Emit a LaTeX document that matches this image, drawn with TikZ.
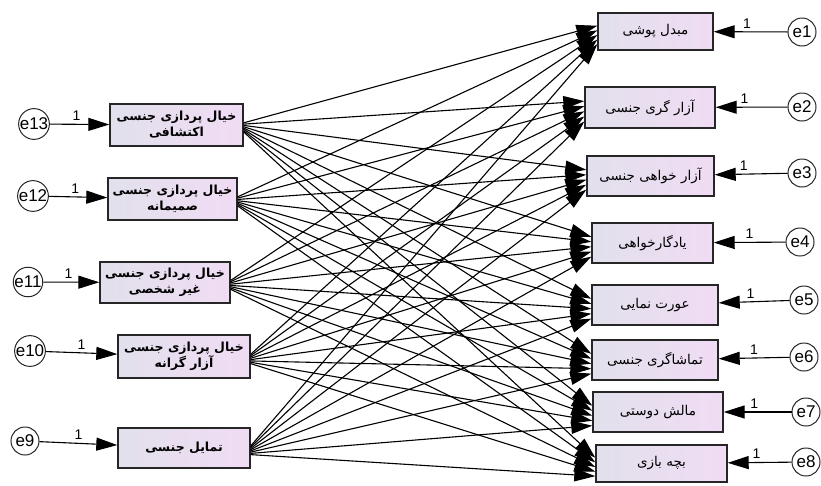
\documentclass[tikz,border=0pt]{standalone}
\usepackage{fontspec}
\setmainfont{Liberation Sans}
\newfontfamily\arabicfont[Script=Arabic]{DejaVu Sans}
\TeXXeTstate=1
\usetikzlibrary{arrows.meta,calc}
\definecolor{boxL}{RGB}{226,224,236}
\definecolor{boxR}{RGB}{240,220,244}
\tikzset{
  varbox/.style={draw=black!85, line width=1.4pt, left color=boxL, right color=boxR,
    align=center, inner sep=0pt, font=\arabicfont\fontsize{13.5}{17}\selectfont},
  leftbox/.style={varbox, font=\arabicfont\bfseries\fontsize{12.5}{16}\selectfont},
  errc/.style={draw=black!85, line width=1pt, circle, minimum size=28pt, inner sep=0pt,
    font=\fontsize{17}{17}\selectfont},
  conn/.style={line width=1.1pt, -{Triangle[length=21pt,width=13pt]}},
  one/.style={font=\fontsize{14}{14}\selectfont, inner sep=3pt}
}
\begin{document}
\begin{tikzpicture}[x=1pt,y=-1pt]
\useasboundingbox (0,0) rectangle (821,485);
% left variables
\node[leftbox, minimum width=133pt, minimum height=42pt] (L1) at (176.5,125) {\beginR خیال پردازی جنسی\endR\\\beginR اکتشافی\endR};
\node[leftbox, minimum width=129pt, minimum height=42pt] (L2) at (172.5,199) {\beginR خیال پردازی جنسی\endR\\\beginR صمیمانه\endR};
\node[leftbox, minimum width=130pt, minimum height=41pt] (L3) at (165,282.5) {\beginR خیال پردازی جنسی\endR\\\beginR غیر شخصی\endR};
\node[leftbox, minimum width=132pt, minimum height=43pt] (L4) at (184,356.5) {\beginR خیال پردازی جنسی\endR\\\beginR آزار گرانه\endR};
\node[leftbox, minimum width=132pt, minimum height=40pt] (L5) at (184,448) {\beginR تمایل جنسی\endR};
% right variables
\node[varbox, minimum width=115pt, minimum height=37pt] (R1) at (655.5,31.5) {\beginR مبدل پوشی\endR};
\node[varbox, minimum width=130pt, minimum height=41pt] (R2) at (650,107.5) {\beginR آزار گری جنسی\endR};
\node[varbox, minimum width=127pt, minimum height=40pt] (R3) at (650.5,176) {\beginR آزار خواهی جنسی\endR};
\node[varbox, minimum width=121pt, minimum height=40pt] (R4) at (652.5,243) {\beginR یادگارخواهی\endR};
\node[varbox, minimum width=126pt, minimum height=40pt] (R5) at (655,305) {\beginR عورت نمایی\endR};
\node[varbox, minimum width=126pt, minimum height=40pt] (R6) at (655,360) {\beginR تماشاگری جنسی\endR};
\node[varbox, minimum width=130pt, minimum height=40pt] (R7) at (658,412) {\beginR مالش دوستی\endR};
\node[varbox, minimum width=131pt, minimum height=37pt] (R8) at (661.5,463.5) {\beginR بچه بازی\endR};
% error terms left
\node[errc] (e13) at (34,124) {e13};
\node[errc] (e12) at (33,196) {e12};
\node[errc] (e11) at (28,282) {e11};
\node[errc] (e10) at (30,351) {e10};
\node[errc] (e9) at (25,441) {e9};
% error terms right
\node[errc] (e1) at (802,32) {e1};
\node[errc] (e2) at (802,107) {e2};
\node[errc] (e3) at (802,173) {e3};
\node[errc] (e4) at (800,242) {e4};
\node[errc] (e5) at (804,300) {e5};
\node[errc] (e6) at (804,357) {e6};
\node[errc] (e7) at (806,412) {e7};
\node[errc] (e8) at (806,462) {e8};
% error arrows
\draw[conn] (e13) -- node[one, above, pos=0.45] {1} (L1);
\draw[conn] (e12) -- node[one, above, pos=0.45] {1} (L2);
\draw[conn] (e11) -- node[one, above, pos=0.45] {1} (L3);
\draw[conn] (e10) -- node[one, above, pos=0.5] {1} (L4);
\draw[conn] (e9) -- node[one, above, pos=0.5] {1} (L5);
\draw[conn] (e1) -- node[one, above, pos=0.55] {1} (R1);
\draw[conn] (e2) -- node[one, above, pos=0.6] {1} (R2);
\draw[conn] (e3) -- node[one, above, pos=0.6] {1} (R3);
\draw[conn] (e4) -- node[one, above, pos=0.5] {1} (R4);
\draw[conn] (e5) -- node[one, above, pos=0.55] {1} (R5);
\draw[conn] (e6) -- node[one, above, pos=0.5] {1} (R6);
\draw[conn] (e7) -- node[one, above, pos=0.55] {1} (R7);
\draw[conn] (e8) -- node[one, above, pos=0.55] {1} (R8);
% structural paths
\foreach \i in {1,...,5}{
  \foreach \j in {1,...,8}{
    \pgfmathsetmacro\g{0.45+0.03*(\j-1)}
    \pgfmathsetmacro\f{0.35+0.12*(\i-1)}
    \draw[conn] ($(L\i.north east)!\g!(L\i.south east)$) -- ($(R\j.north west)!\f!(R\j.south west)$);
  }
}
\end{tikzpicture}
\end{document}
